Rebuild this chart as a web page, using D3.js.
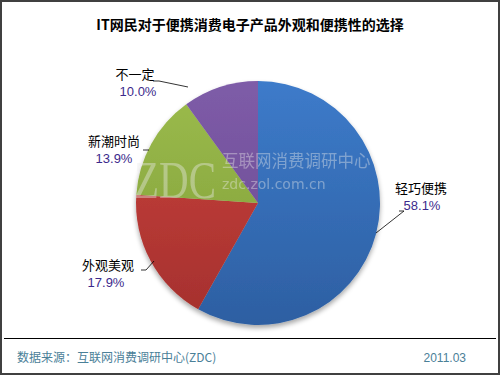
<!DOCTYPE html>
<html><head><meta charset="utf-8">
<script src="https://cdn.jsdelivr.net/npm/d3@7"></script>
<style>body{margin:0;background:#fff}svg{display:block}</style>
</head><body>
<script>
const categories = ["轻巧便携", "外观美观", "新潮时尚", "不一定"];
const values = [58.1, 17.9, 13.9, 10.0];
const valueLabels = ["58.1%", "17.9%", "13.9%", "10.0%"];
const title = "IT网民对于便携消费电子产品外观和便携性的选择";
const source = "数据来源：互联网消费调研中心(ZDC)";
const dateText = "2011.03";

const W = 500, H = 375;
const cx = 258, cy = 203, R = 122;
const colorsTop = ["#3d7bca", "#cb433e", "#9cbc4c", "#7e5ca8"];
const colorsBot = ["#2d5fa2", "#a4302d", "#7e9c38", "#694890"];

const svg = d3.select("body").append("svg").attr("width", W).attr("height", H);
const defs = svg.append("defs");
categories.forEach((c, i) => {
  const g = defs.append("linearGradient").attr("id", "g" + i)
    .attr("gradientUnits", "userSpaceOnUse")
    .attr("x1", 0).attr("y1", -R).attr("x2", 0).attr("y2", R);
  g.append("stop").attr("offset", "0%").attr("stop-color", colorsTop[i]);
  g.append("stop").attr("offset", "100%").attr("stop-color", colorsBot[i]);
});
const f = defs.append("filter").attr("id", "sh").attr("x", "-20%").attr("y", "-20%").attr("width", "140%").attr("height", "140%");
f.append("feGaussianBlur").attr("in", "SourceAlpha").attr("stdDeviation", 2.5);
f.append("feOffset").attr("dy", 3).attr("result", "b");
f.append("feComponentTransfer").append("feFuncA").attr("type", "linear").attr("slope", 0.35);
const m = f.append("feMerge"); m.append("feMergeNode"); m.append("feMergeNode").attr("in", "SourceGraphic");

// frame
svg.append("rect").attr("x", 1).attr("y", 1).attr("width", W - 2).attr("height", H - 2)
  .attr("fill", "#fff").attr("stroke", "#404040").attr("stroke-width", 2);

svg.append("text").attr("x", 250).attr("y", 30).attr("text-anchor", "middle")
  .attr("font-family", "'Noto Sans CJK SC', sans-serif").attr("font-size", 14).attr("font-weight", "bold")
  .attr("fill", "#000").text(title);

const pie = d3.pie().sort(null).value(d => d)(values);
const arc = d3.arc().innerRadius(0).outerRadius(R);
const pg = svg.append("g").attr("transform", `translate(${cx},${cy})`);
const slices = pg.append("g").attr("filter", "url(#sh)");
slices.selectAll("path").data(pie).join("path")
  .attr("d", arc)
  .attr("fill", (d, i) => `url(#g${i})`);

// watermark
const wm = svg.append("g").attr("opacity", 0.4);
wm.append("g").attr("transform", "translate(134,198) scale(1,1.3)")
  .append("text").attr("x", 0).attr("y", 0).attr("font-family", "'Liberation Serif', serif")
  .attr("font-size", 41).attr("fill", "#ececec").text("ZDC");
wm.append("text").attr("x", 222).attr("y", 167).attr("font-family", "'Noto Sans CJK SC', sans-serif")
  .attr("font-size", 16.5).attr("fill", "#ececec").text("互联网消费调研中心");
wm.append("text").attr("x", 222).attr("y", 189).attr("font-family", "'DejaVu Sans', sans-serif")
  .attr("font-size", 14).attr("fill", "#ececec").text("zdc.zol.com.cn");

// labels
const labelFont = "'Noto Sans CJK SC', sans-serif";
const labelPos = [
  {x: 421, y: 193, px: 422, py: 210, line: [[399, 211], [404, 211], [404, 211], [376, 233]]},
  {x: 108, y: 270, px: 106, py: 287, line: [[141, 270], [146, 270], [146, 270], [154, 261]]},
  {x: 114, y: 146, px: 114, py: 163, line: [[143, 150], [149, 150]]},
  {x: 135, y: 79, px: 138, py: 96, line: [[153, 81], [159, 81], [159, 81], [188, 87]]}
];
const lg = svg.append("g");
categories.forEach((c, i) => {
  const p = labelPos[i];
  lg.append("text").attr("x", p.x).attr("y", p.y).attr("text-anchor", "middle")
    .attr("font-family", labelFont).attr("font-size", 13).attr("fill", "#000").text(c);
  lg.append("text").attr("x", p.px).attr("y", p.py).attr("text-anchor", "middle")
    .attr("font-family", "'Liberation Sans', Arial, sans-serif").attr("font-size", 13).attr("fill", "#3c2a8c").text(valueLabels[i]);
  lg.append("path").attr("d", d3.line()(p.line)).attr("fill", "none").attr("stroke", "#000").attr("stroke-width", 0.8);
});

// footer
svg.append("line").attr("x1", 4).attr("x2", 496).attr("y1", 338.5).attr("y2", 338.5).attr("stroke", "#000").attr("stroke-width", 1);
svg.append("text").attr("x", 17).attr("y", 362).attr("font-family", labelFont).attr("font-size", 12)
  .attr("fill", "#4a8098").text(source);
svg.append("text").attr("x", 466).attr("y", 362).attr("text-anchor", "end").attr("font-family", "'Liberation Sans', Arial, sans-serif").attr("font-size", 12)
  .attr("fill", "#4a8098").text(dateText);
</script>
</body></html>
